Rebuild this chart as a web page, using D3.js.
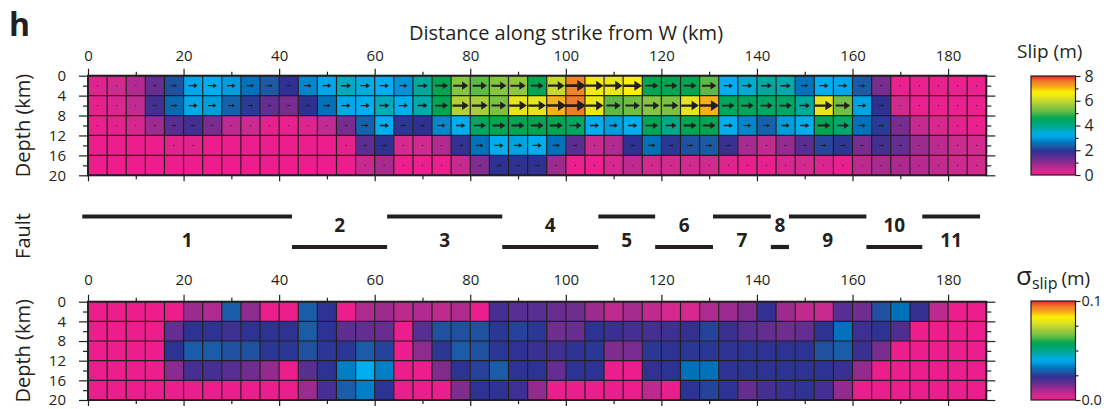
<!DOCTYPE html>
<html>
<head>
<meta charset="utf-8">
<script src="https://cdn.jsdelivr.net/npm/d3@7.9.0/dist/d3.min.js"></script>
<style>
  body { margin: 0; background: #fff; }
  svg text { font-family: "Open Sans", "Noto Sans", sans-serif; fill: #231f20; }
</style>
</head>
<body>
<svg id="chart" width="1107" height="409"></svg>
<script>
// ---- data ----
const cellKm = 4;
const kmMax = 188;
const depthMax = 20;
const distTicks = [0, 20, 40, 60, 80, 100, 120, 140, 160, 180];
const depthTicks = [0, 4, 8, 12, 16, 20];

// slip (m) per 4x4 km patch, rows 0-4, 4-8, 8-12, 12-16, 16-20 km
const slipRows = [
  [0.2,0.4,0.7,1.4,2.2, 3.2,3.3,3.0,2.6,2.3, 1.9,2.8,3.2,3.6,3.4, 3.3,2.9,3.8,4.6,5.4, 5.1,5.4,5.5,4.6,6.0, 7.5,6.5,6.4,6.7,4.6, 4.6,4.6,5.1,3.3,3.5, 3.8,3.7,2.6,3.3,3.2, 2.3,1.2,0.05,0.05,0.05, 0.05,0.05],
  [0.1,0.25,0.55,1.7,2.5, 3.2,3.0,2.4,2.0,1.4, 1.2,1.9,2.6,3.2,3.3, 3.6,3.3,3.7,4.6,5.8, 5.7,5.3,6.3,6.3,7.1, 7.6,6.4,5.1,5.2,5.4, 5.3,6.3,7.1,4.5,4.5, 4.4,4.4,3.8,6.3,5.2, 3.1,1.9,0.4,0.05,0.05, 0.05,0.05],
  [0.05,0.1,0.3,0.9,1.5, 1.7,1.2,0.6,0.45,0.1, 0.05,0.2,0.55,1.2,2.4, 3.3,1.95,1.9,2.8,3.3, 4.4,4.6,4.6,4.6,4.6, 4.4,3.3,3.0,3.3,4.5, 4.0,4.6,4.6,3.3,2.8, 2.4,3.0,3.3,4.6,4.3, 2.6,2.0,1.2,0.5,0.25, 0.1,0.05],
  [0,0,0,0,0.15, 0.15,0,0,0,0, 0,0,0,0.1,1.45, 1.9,0.35,0.4,0.7,1.85, 2.6,3.3,3.1,3.3,2.6, 1.5,0.5,0.7,1.9,2.6, 1.95,2.2,2.3,1.8,0.8, 0.55,0.95,1.5,2.1,1.95, 1.2,1.7,1.4,0.9,0.6, 0.45,0.35],
  [0,0,0,0,0, 0,0,0,0,0, 0,0,0,0,0.5, 0.8,0.05,0.05,0.05,0.5, 1.1,1.9,1.9,1.9,0.9, 0.05,0.05,0.35,0.6,0.4, 0.4,0.4,0.4,0.2,0.1, 0.1,0.3,0.35,0.3,0.1, 0.6,0.8,0.75,0.65,0.55, 0.45,0.4]
];

// slip uncertainty (m), same patches
const sigmaRows = [
  [0,0,0,0,0, .011,.009,.029,.0125,0, 0,.029,.024,0,.009, .011,.0075,.009,.007,.009, 0,.021,.019,.019,.017, .016,.011,.007,.010,.007, .004,.004,.009,.011,.014, .023,.011,.007,.006,.019, .016,.0275,.0325,.023,.0075, 0,0],
  [0,0,0,0,.0175, .024,.024,.022,.024,.024, .024,.029,.024,.018,.0175, .017,0,.019,.0275,.0275, .0275,.0245,.026,.0245,.016, .017,.024,.0225,.021,.021, .022,.023,.026,.0225,.019, .0175,.016,.0175,.024,.0325, .022,.024,.020,0,0, 0,0],
  [0,0,0,0,.024, .029,.029,.0275,.0275,.0245, .0245,.0275,.0245,.0245,.029, .026,0,.0125,.0245,.029, .0275,.0245,.024,.0225,.022, .024,.0245,.014,.015,.0245, .024,.0245,.0245,.024,.024, .024,.024,.024,.0275,.029, .0225,.015,0,0,0, 0,0],
  [0,0,0,0,.013, .021,.021,.019,.016,.012, 0,.019,.024,.034,.041, .034,0,0,.014,.024, .026,.029,.024,.024,.0175, .024,.024,0,0,.023, .024,.0325,.0325,.024,.024, .024,.024,.024,.024,.0225, .012,0,0,0,0, 0,0],
  [0,0,0,0,0, 0,0,0,0,0, 0,.011,.021,.029,.034, .024,0,0,0,.014, .024,.024,.022,.012,0, 0,0,0,0,.0075, 0,.024,.026,.024,.0175, .021,.0225,.024,.021,.012, 0,0,0,0,0, 0,0]
];

// fault segments (km along strike)
const faultIds   = ['1','2','3','4','5','6','7','8','9','10','11'];
const faultStart = [-1.2, 42.7, 62.6, 86.7, 106.8, 118.7, 130.8, 142.9, 146.7, 162.9, 174.6];
const faultEnd   = [42.7, 62.6, 86.7, 106.8, 118.7, 130.8, 142.9, 146.7, 162.9, 174.6, 186.7];
const faultUpper = [true, false, true, false, true, false, true, false, true, false, true];

// colour palette (slip, m)
const paletteValues = [0, 0.4, 0.8, 1.1, 1.45, 1.9, 2.3, 2.6, 3.0, 3.3, 3.8, 4.6, 5.2, 5.7, 6.3, 6.7, 7.2, 7.6, 8.0];
const paletteColors = ['#ec1e8e','#d02a8f','#a72a8f','#822c8f','#5e2d91','#2e3192','#1c5aa5','#0072bc','#009ddc','#00aeef','#00a99d','#00a651','#6fbf44','#a6ce39','#e6e41f','#fff200','#f6a020','#ef7a2a','#ed1c24'];
const slipBarTicks = [0, 2, 4, 6, 8];
const sigmaBarTicks = [0, 0.1];

// ---- drawing ----
const ink = '#231f20';
const svg = d3.select('#chart');

const x = d3.scaleLinear().domain([0, kmMax]).range([88, 986.3]);

const slipColor = d3.scaleLinear().domain(paletteValues).range(paletteColors).clamp(true);
const sigmaColor = d3.scaleLinear().domain(paletteValues.map(v => v / 80)).range(paletteColors).clamp(true);

function flat(rows) {
  const out = [];
  rows.forEach((row, r) => row.forEach((v, c) => out.push({ r, c, v })));
  return out;
}

function drawPanel(rows, color, top, bottom, withArrows, labelPad) {
  const y = d3.scaleLinear().domain([0, depthMax]).range([top, bottom]);
  const g = svg.append('g');
  const cw = x(cellKm) - x(0);
  const ch = y(cellKm) - y(0);

  g.selectAll('rect.cell')
    .data(flat(rows))
    .join('rect')
    .attr('class', 'cell')
    .attr('x', d => x(d.c * cellKm))
    .attr('y', d => y(d.r * cellKm))
    .attr('width', cw)
    .attr('height', ch)
    .attr('fill', d => color(d.v));

  // grid lines
  const cols = d3.range(0, kmMax + 1, cellKm);
  g.selectAll('line.v').data(cols).join('line')
    .attr('x1', d => x(d)).attr('x2', d => x(d))
    .attr('y1', top).attr('y2', bottom)
    .attr('stroke', ink).attr('stroke-width', 1.2);
  g.selectAll('line.h').data(depthTicks).join('line')
    .attr('x1', x(0)).attr('x2', x(kmMax))
    .attr('y1', d => y(d)).attr('y2', d => y(d))
    .attr('stroke', ink).attr('stroke-width', 1.2);

  if (withArrows) {
    const pts = flat(rows).filter(d => d.v >= 0.05);
    g.selectAll('path.arrow')
      .data(pts)
      .join('path')
      .attr('fill', ink)
      .attr('d', d => {
        const cx = x(d.c * cellKm + cellKm / 2);
        const cy = y(d.r * cellKm + cellKm / 2);
        const s = d.v;
        const L = 2.8 * s;
        if (L < 1.6) {
          const r = 0.55;
          return `M${cx - r},${cy}a${r},${r} 0 1,0 ${2 * r},0a${r},${r} 0 1,0 ${-2 * r},0`;
        }
        const t = 0.3 + 0.32 * s, hl = 1.15 * s, hw = 0.75 * s;
        const x0 = cx - L / 2, x1 = cx + L / 2;
        return `M${x0},${cy - t / 2}L${x1 - hl},${cy - t / 2}L${x1 - hl},${cy - hw}L${x1},${cy}` +
               `L${x1 - hl},${cy + hw}L${x1 - hl},${cy + t / 2}L${x0},${cy + t / 2}Z`;
      });
  }

  // border
  g.append('rect')
    .attr('x', x(0)).attr('y', top)
    .attr('width', x(kmMax) - x(0)).attr('height', bottom - top)
    .attr('fill', 'none').attr('stroke', ink).attr('stroke-width', 2);

  // axes
  const axisStyle = sel => {
    sel.select('.domain').remove();
    sel.selectAll('line').attr('stroke', ink).attr('stroke-width', 1.2);
    sel.selectAll('text').attr('font-size', 15).attr('fill', ink)
      .style('font-family', '"Open Sans", sans-serif');
  };
  const minorDist = d3.range(10, kmMax, 20);
  const minorDepth = [2, 6, 10, 14, 18];

  g.append('g').attr('transform', `translate(0,${top})`)
    .call(d3.axisTop(x).tickValues(distTicks).tickSize(7).tickPadding(labelPad).tickFormat(d3.format('d')))
    .call(axisStyle);
  g.append('g').attr('transform', `translate(0,${top})`)
    .call(d3.axisTop(x).tickValues(minorDist).tickSize(4).tickFormat(''))
    .call(axisStyle);
  g.append('g').attr('transform', `translate(0,${bottom})`)
    .call(d3.axisBottom(x).tickValues(distTicks).tickSize(6).tickFormat(''))
    .call(axisStyle);
  g.append('g').attr('transform', `translate(0,${bottom})`)
    .call(d3.axisBottom(x).tickValues(minorDist).tickSize(4).tickFormat(''))
    .call(axisStyle);

  g.append('g').attr('transform', `translate(${x(0)},0)`)
    .call(d3.axisLeft(y).tickValues(depthTicks).tickSize(9).tickPadding(13))
    .call(axisStyle);
  g.append('g').attr('transform', `translate(${x(0)},0)`)
    .call(d3.axisLeft(y).tickValues(minorDepth).tickSize(5).tickFormat(''))
    .call(axisStyle);
  g.append('g').attr('transform', `translate(${x(kmMax)},0)`)
    .call(d3.axisRight(y).tickValues(depthTicks).tickSize(9).tickFormat(''))
    .call(axisStyle);
  g.append('g').attr('transform', `translate(${x(kmMax)},0)`)
    .call(d3.axisRight(y).tickValues(minorDepth).tickSize(5).tickFormat(''))
    .call(axisStyle);

  svg.append('text')
    .attr('transform', `translate(30,${(top + bottom) / 2}) rotate(-90)`)
    .attr('text-anchor', 'middle')
    .attr('font-size', 20)
    .text('Depth (km)');
}

drawPanel(slipRows, slipColor, 75.7, 175.3, true, 8);
drawPanel(sigmaRows, sigmaColor, 301.7, 400, false, 9.5);

// title and panel letter
svg.append('text').attr('x', 566).attr('y', 40).attr('text-anchor', 'middle')
  .attr('font-size', 20).text('Distance along strike from W (km)');
svg.append('text').attr('x', 9).attr('y', 36).attr('font-size', 32).attr('font-weight', 'bold').text('h');

// faults
const faultG = svg.append('g');
faultIds.forEach((id, i) => {
  const yLine = faultUpper[i] ? 216.5 : 247;
  faultG.append('line')
    .attr('x1', x(faultStart[i])).attr('x2', x(faultEnd[i]))
    .attr('y1', yLine).attr('y2', yLine)
    .attr('stroke', ink).attr('stroke-width', 4.2);
  faultG.append('text')
    .attr('x', x((faultStart[i] + faultEnd[i]) / 2))
    .attr('y', faultUpper[i] ? 247 : 232)
    .attr('text-anchor', 'middle')
    .attr('font-size', 19).attr('font-weight', 'bold')
    .text(id);
});
svg.append('text')
  .attr('transform', 'translate(30,236) rotate(-90)')
  .attr('text-anchor', 'middle').attr('font-size', 20).text('Fault');

// colour bars
function colorBar(id, color, dom, top, bottom, ticks, minor, fmt, fontSize, pad) {
  const x0 = 1031, x1 = 1075.5;
  const grad = svg.append('defs').append('linearGradient')
    .attr('id', id).attr('x1', 0).attr('y1', 1).attr('x2', 0).attr('y2', 0);
  d3.range(0, 1.0001, 0.02).forEach(t => {
    grad.append('stop').attr('offset', t).attr('stop-color', color(dom[0] + t * (dom[1] - dom[0])));
  });
  svg.append('rect').attr('x', x0).attr('y', top).attr('width', x1 - x0).attr('height', bottom - top)
    .attr('fill', `url(#${id})`).attr('stroke', ink).attr('stroke-width', 1.2);
  const yb = d3.scaleLinear().domain(dom).range([bottom, top]);
  const ax = svg.append('g').attr('transform', `translate(${x1},0)`)
    .call(d3.axisRight(yb).tickValues(ticks).tickSize(5).tickPadding(pad).tickFormat(fmt));
  ax.select('.domain').remove();
  ax.selectAll('line').attr('stroke', ink).attr('stroke-width', 1.2);
  ax.selectAll('text').attr('font-size', fontSize).attr('fill', ink).style('font-family', '"Open Sans", sans-serif');
  const ax2 = svg.append('g').attr('transform', `translate(${x1},0)`)
    .call(d3.axisRight(yb).tickValues(minor).tickSize(3).tickFormat(''));
  ax2.select('.domain').remove();
  ax2.selectAll('line').attr('stroke', ink).attr('stroke-width', 1.2);
}

colorBar('slipGrad', slipColor, [0, 8], 76, 175, slipBarTicks, [1, 3, 5, 7], d3.format('d'), 16, 4);
colorBar('sigmaGrad', sigmaColor, [0, 0.1], 301, 400, sigmaBarTicks, [0.025, 0.05, 0.075], d3.format('.1f'), 14.5, 1);

svg.append('text').attr('x', 1017).attr('y', 58).attr('font-size', 19).text('Slip (m)');
const sig = svg.append('text').attr('x', 1016).attr('y', 285);
sig.append('tspan').attr('font-size', 26).text('σ');
sig.append('tspan').attr('font-size', 16).attr('dy', 4).text('slip');
sig.append('tspan').attr('font-size', 19).attr('dy', -4).attr('dx', 4).text('(m)');
</script>
</body>
</html>
